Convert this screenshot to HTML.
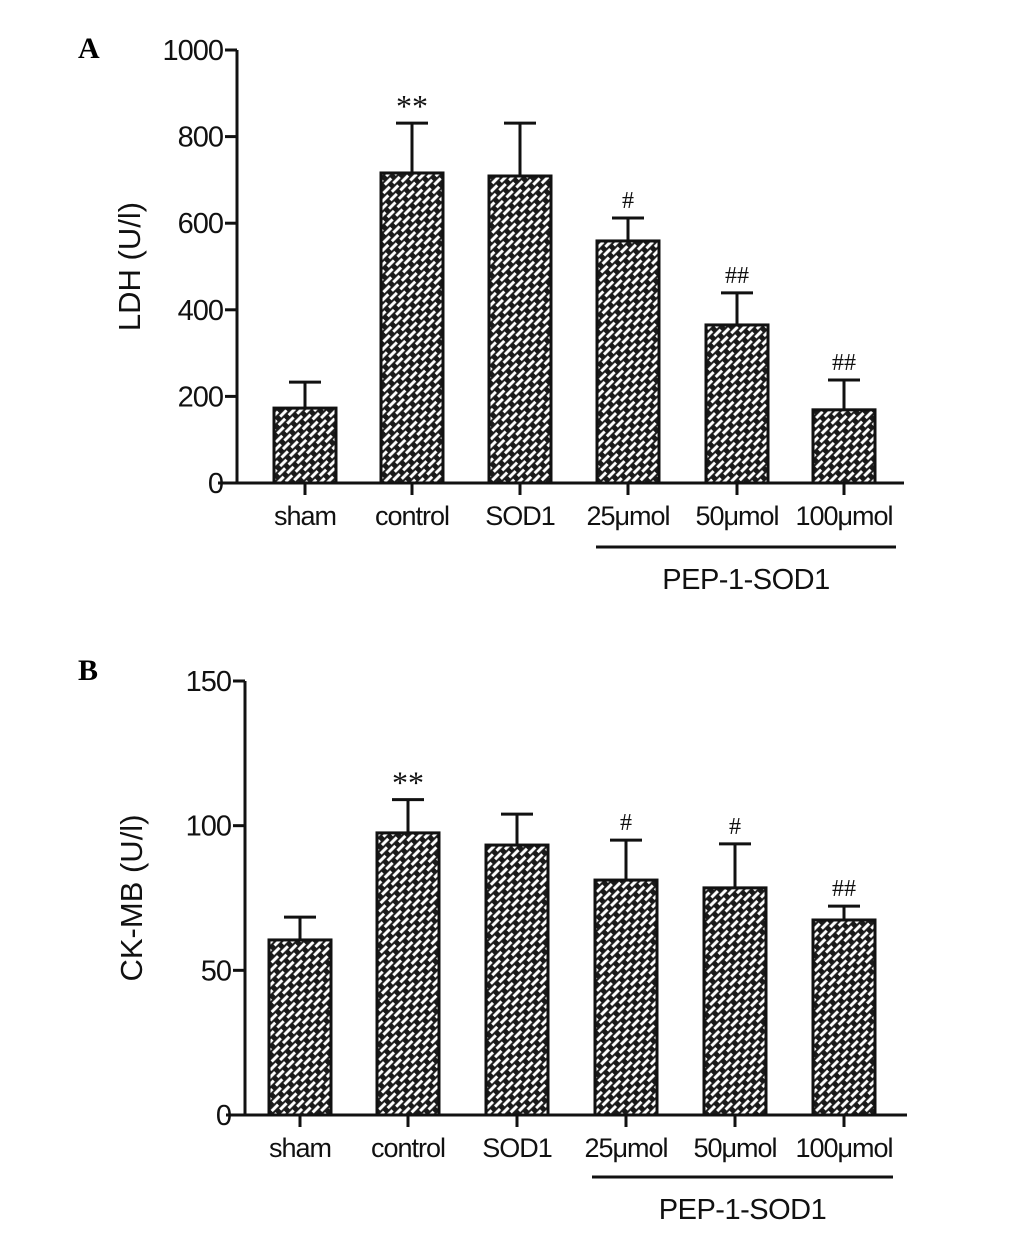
<!DOCTYPE html>
<html><head><meta charset="utf-8"><style>
body{margin:0;background:#fff;}
svg{display:block;font-family:"Liberation Sans",Arial,sans-serif;}
</style></head><body>
<svg id="fig" width="1033" height="1236" viewBox="0 0 1033 1236">
<defs>
<pattern id="brick" width="14" height="10" patternUnits="userSpaceOnUse" patternTransform="rotate(-45)">
<rect width="14" height="10" fill="#1a1a1a"/>
<rect x="1.5" y="1.2" width="9" height="3" fill="#fff"/>
<rect x="8.5" y="6.2" width="9" height="3" fill="#fff"/>
<rect x="-5.5" y="6.2" width="9" height="3" fill="#fff"/>
</pattern>
</defs>
<g id="gA"></g>
<g id="gB"></g>
</svg>
<script>
const categories = ["sham","control","SOD1","25\u03bcmol","50\u03bcmol","100\u03bcmol"];
const ldhValues = [173, 716, 709, 559, 365, 169];
const ldhErrors = [60, 115, 122, 53, 74, 69];
const ldhMarks = ["", "**", "", "#", "##", "##"];
const ldhTicks = [0, 200, 400, 600, 800, 1000];
const ckValues = [60.5, 97.5, 93.3, 81.2, 78.5, 67.4];
const ckErrors = [7.9, 11.5, 10.7, 13.8, 15.2, 4.8];
const ckMarks = ["", "**", "", "#", "#", "##"];
const ckTicks = [0, 50, 100, 150];

const NS = "http://www.w3.org/2000/svg";
function mk(parent, tag, attrs, text){
  const e = document.createElementNS(NS, tag);
  for (const k in attrs) e.setAttribute(k, attrs[k]);
  if (text !== undefined) e.textContent = text;
  parent.appendChild(e);
  return e;
}
const centersA = [305, 412, 520, 628, 737, 844];
const centersB = [300, 408, 517, 626, 735, 844];

function panel(g, cfg){
  const y = v => cfg.y0 - (v - 0) / cfg.max * (cfg.y0 - cfg.yTop);
  const lt = mk(g, "text", {x: cfg.letterX, y: cfg.letterY, "font-family":"Liberation Serif,serif", "font-weight":"bold", "font-size":"30"}, cfg.letter);
  
  
  const ya = mk(g, "line", {x1: cfg.ax, x2: cfg.ax, y1: cfg.yTop, y2: cfg.y0, stroke:"#111", "stroke-width":3});
  
  
  cfg.ticks.forEach(t => {
    const tl = mk(g, "line", {x1: cfg.ax - 12, x2: cfg.ax, y1: y(t), y2: y(t), stroke:"#111", "stroke-width":3});
    
    
    const tx = mk(g, "text", {x: cfg.ax - 14, y: y(t) + 10, "text-anchor":"end", "font-size":"29", fill:"#111", "letter-spacing":"-1"}, String(t));
    
    
  });
  const yt = mk(g, "text", {x: 0, y: 0, "text-anchor":"middle", "font-size":"31", fill:"#111", transform:`translate(${cfg.titleX},${(cfg.yTop + cfg.y0) / 2}) rotate(-90)`}, cfg.title);
  
  
  cfg.values.forEach((v, i) => {
    const cx = cfg.centers[i], w = 62;
    const eTop = y(v + cfg.errors[i]);
    const el = mk(g, "line", {x1: cx, x2: cx, y1: eTop, y2: y(v), stroke:"#111", "stroke-width":3});
    
    
    const ec = mk(g, "line", {x1: cx - 16, x2: cx + 16, y1: eTop, y2: eTop, stroke:"#111", "stroke-width":3});
    
    
    const b = mk(g, "rect", {x: cx - w/2, y: y(v), width: w, height: cfg.y0 - y(v), fill:"url(#brick)", stroke:"#111", "stroke-width":3});
    
    
    if (cfg.marks[i]) {
      const star = cfg.marks[i].startsWith("*");
      const m = mk(g, "text", {x: cx, y: eTop - (star ? 6 : 10), "text-anchor":"middle", "font-size": star ? "32" : "24", "font-family":"Liberation Serif,serif", fill:"#111"}, cfg.marks[i]);
      
      
    }
    const xt = mk(g, "line", {x1: cx, x2: cx, y1: cfg.y0, y2: cfg.y0 + 12, stroke:"#111", "stroke-width":3});
    
    
    const xl = mk(g, "text", {x: cx, y: cfg.y0 + 42, "text-anchor":"middle", "font-size":"27", fill:"#111", "letter-spacing":"-1"}, categories[i]);
    
    
  });
  const xa = mk(g, "line", {x1: cfg.axL, x2: cfg.axR, y1: cfg.y0, y2: cfg.y0, stroke:"#111", "stroke-width":3});
  
  
  const gl = mk(g, "line", {x1: cfg.grpL, x2: cfg.grpR, y1: cfg.grpY, y2: cfg.grpY, stroke:"#111", "stroke-width":3});
  
  
  const gt = mk(g, "text", {x: (cfg.grpL + cfg.grpR) / 2, y: cfg.grpY + 42, "text-anchor":"middle", "font-size":"29", fill:"#111", "letter-spacing":"-0.5"}, "PEP-1-SOD1");
  
  
}
panel(document.getElementById("gA"), {letter:"A", letterX:78, letterY:58, ax:237, yTop:50, y0:483, max:1000, ticks:ldhTicks,
  title:"LDH (U/l)", titleX:140, values:ldhValues, errors:ldhErrors, marks:ldhMarks, centers:centersA,
  axL:218, axR:904, grpL:596, grpR:896, grpY:547});
panel(document.getElementById("gB"), {letter:"B", letterX:78, letterY:680, ax:245, yTop:681, y0:1115, max:150, ticks:ckTicks,
  title:"CK-MB (U/l)", titleX:142, values:ckValues, errors:ckErrors, marks:ckMarks, centers:centersB,
  axL:226, axR:907, grpL:592, grpR:893, grpY:1177});
</script>
</body></html>
